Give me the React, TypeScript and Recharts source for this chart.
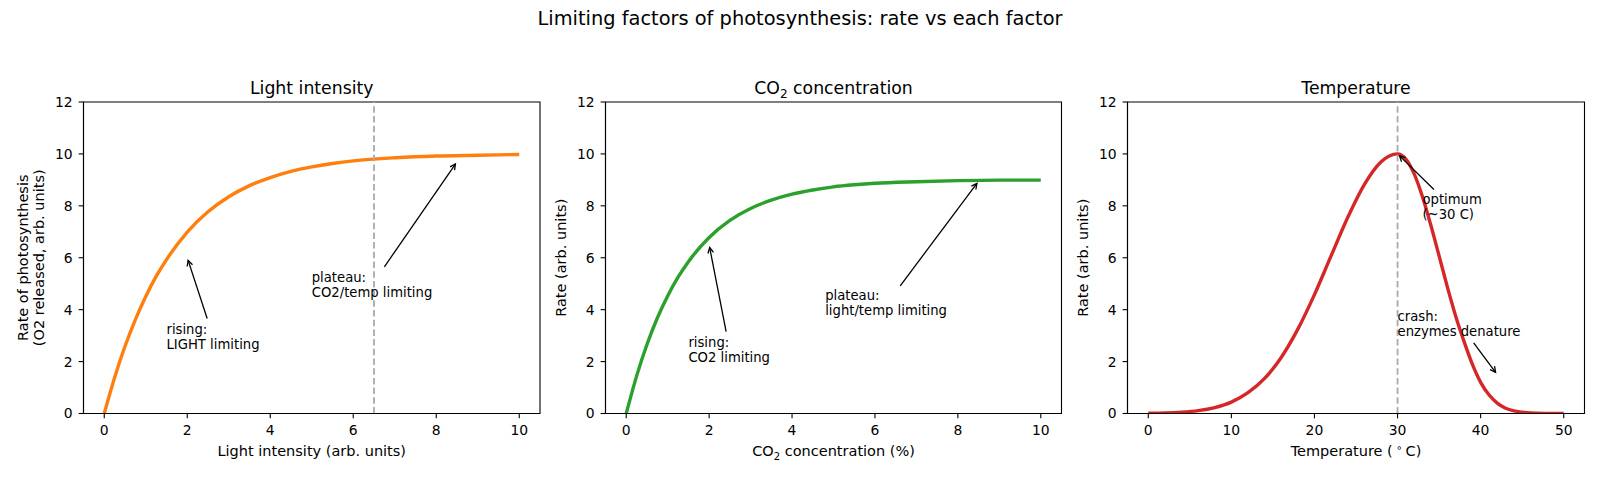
import React from 'react';
import {
  LineChart,
  Line,
  XAxis,
  YAxis,
  ReferenceLine,
  ReferenceDot,
  ReferenceArea,
  Label,
} from 'recharts';

const FONT = "'DejaVu Sans', 'Liberation Sans', sans-serif";
const TICK_FONT = 13.9;
const AXIS_LABEL_FONT = 14.5;
const NOTE_FONT = 13.2;

// ---- Light intensity vs rate ----
const lightIntensity = [0, 0.25, 0.5, 0.75, 1, 1.25, 1.5, 2, 2.5, 3, 3.5, 4, 4.5, 5, 5.5, 6, 7, 8, 9, 10];
const lightRate = [0, 1.39, 2.59, 3.62, 4.51, 5.28, 5.93, 6.99, 7.77, 8.35, 8.78, 9.09, 9.33, 9.5, 9.63, 9.73, 9.85, 9.92, 9.95, 9.98];

// ---- CO2 concentration vs rate ----
const co2Percent = [0, 0.25, 0.5, 0.75, 1, 1.25, 1.5, 2, 2.5, 3, 3.5, 4, 4.5, 5, 5.5, 6, 7, 8, 9, 10];
const co2Rate = [0, 1.44, 2.66, 3.68, 4.53, 5.25, 5.85, 6.78, 7.44, 7.9, 8.22, 8.45, 8.61, 8.73, 8.81, 8.87, 8.93, 8.97, 8.99, 8.99];

// ---- Temperature vs rate ----
const temperatureC = [0, 2, 4, 6, 8, 10, 12, 14, 16, 18, 20, 22, 24, 26, 28, 29, 30, 31, 32, 33, 34, 35, 36, 37, 38, 39, 40, 41, 42, 43, 44, 45, 46, 48, 50];
const temperatureRate = [0.01, 0.02, 0.05, 0.11, 0.23, 0.44, 0.8, 1.35, 2.16, 3.25, 4.58, 6.07, 7.55, 8.82, 9.69, 9.92, 10, 9.8, 9.23, 8.35, 7.26, 6.07, 4.87, 3.75, 2.78, 1.9, 1.2, 0.72, 0.4, 0.2, 0.1, 0.05, 0.02, 0.005, 0];

// ---- ticks ----
const rateTicks = [0, 2, 4, 6, 8, 10, 12];
const lightTicks = [0, 2, 4, 6, 8, 10];
const co2Ticks = [0, 2, 4, 6, 8, 10];
const temperatureTicks = [0, 10, 20, 30, 40, 50];

// ---- markers and annotations ----
const lightMarker = 6.5;
const temperatureOptimum = 30;

type Note = { lines: string[]; x: number; y: number };
type Arrow = { from: [number, number]; to: [number, number] };

const lightNotes: Note[] = [
  { lines: ['rising:', 'LIGHT limiting'], x: 1.5, y: 2.5 },
  { lines: ['plateau:', 'CO2/temp limiting'], x: 5, y: 4.5 },
];
const lightArrows: Arrow[] = [
  { from: [2.48, 3.66], to: [2, 6] },
  { from: [6.75, 5.65], to: [8.5, 9.7] },
];

const co2Notes: Note[] = [
  { lines: ['rising:', 'CO2 limiting'], x: 1.5, y: 2 },
  { lines: ['plateau:', 'light/temp limiting'], x: 4.8, y: 3.8 },
];
const co2Arrows: Arrow[] = [
  { from: [2.41, 3.15], to: [2, 6.5] },
  { from: [6.61, 4.92], to: [8.5, 8.95] },
];

const temperatureNotes: Note[] = [
  { lines: ['optimum', '(~30 C)'], x: 33, y: 7.5 },
  { lines: ['crash:', 'enzymes denature'], x: 30, y: 3 },
];
const temperatureArrows: Arrow[] = [
  { from: [34.38, 8.63], to: [30, 10] },
  { from: [39.16, 2.72], to: [42, 1.5] },
];

// Annotation arrow in the "->" style: a shaft plus an open head, pulled back a little from the target.
function ArrowShape(props: any) {
  const { x1, y1, x2, y2 } = props;
  const dx = x2 - x1;
  const dy = y2 - y1;
  const len = Math.hypot(dx, dy) || 1;
  const ux = dx / len;
  const uy = dy / len;
  const tx = x2 - ux * 2.8;
  const ty = y2 - uy * 2.8;
  const hl = 5.5;
  const hw = 2.8;
  const bx = tx - ux * hl;
  const by = ty - uy * hl;
  const px = -uy;
  const py = ux;
  return (
    <g>
      <line x1={x1} y1={y1} x2={tx} y2={ty} stroke="#000" strokeWidth={1.3} />
      <polyline
        points={`${bx + px * hw},${by + py * hw} ${tx},${ty} ${bx - px * hw},${by - py * hw}`}
        fill="none"
        stroke="#000"
        strokeWidth={1.3}
      />
    </g>
  );
}

// Multi-line note; the last line sits on the anchor baseline.
function NoteText({ cx, cy, lines }: { cx: number; cy: number; lines: string[] }) {
  const lh = 14.4;
  const first = cy - lh * (lines.length - 1);
  return (
    <text x={cx} y={first} fontSize={NOTE_FONT} fontFamily={FONT} fill="#000">
      {lines.map((l, i) => (
        <tspan key={i} x={cx} dy={i === 0 ? 0 : lh}>
          {l}
        </tspan>
      ))}
    </text>
  );
}

type PanelProps = {
  left: number;
  axesWidth: number;
  xs: number[];
  ys: number[];
  xDomain: [number, number];
  xTicks: number[];
  color: string;
  marker: number;
  notes: Note[];
  arrows: Arrow[];
  xLabel: React.ReactNode;
  yLabel: string[];
};

function Panel({ left, axesWidth, xs, ys, xDomain, xTicks, color, marker, notes, arrows, xLabel, yLabel }: PanelProps) {
  const data = xs.map((x, i) => ({ x, rate: ys[i] }));
  const width = 83.5 + axesWidth + 12;
  const tickStyle = { fill: '#000', fontSize: TICK_FONT, fontFamily: FONT };
  const lineStyle = { stroke: '#000', strokeWidth: 1.1 };

  const renderXLabel = (p: any) => {
    const vb = p.viewBox || {};
    return (
      <text x={vb.x + vb.width / 2} y={vb.y + 42.5} textAnchor="middle" fontSize={AXIS_LABEL_FONT} fontFamily={FONT} fill="#000">
        {xLabel}
      </text>
    );
  };

  const renderYLabel = (p: any) => {
    const vb = p.viewBox || {};
    const plotLeft = vb.x + vb.width;
    const cy = vb.y + vb.height / 2;
    return (
      <g>
        {yLabel.map((t, i) => {
          const bx = plotLeft - 39.5 - 16.3 * (yLabel.length - 1 - i);
          return (
            <text
              key={i}
              x={bx}
              y={cy}
              transform={`rotate(-90 ${bx} ${cy})`}
              textAnchor="middle"
              fontSize={AXIS_LABEL_FONT}
              fontFamily={FONT}
              fill="#000"
            >
              {t}
            </text>
          );
        })}
      </g>
    );
  };

  return (
    <div style={{ position: 'absolute', left, top: 0 }}>
      <LineChart width={width} height={480} data={data} margin={{ top: 102, right: 12, bottom: 26.5, left: 33.5 }}>
        <XAxis
          dataKey="x"
          type="number"
          domain={xDomain}
          ticks={xTicks}
          interval={0}
          allowDataOverflow
          height={40}
          tickSize={4.86}
          tickMargin={7}
          tick={tickStyle}
          axisLine={lineStyle}
          tickLine={lineStyle}
        >
          <Label content={renderXLabel} />
        </XAxis>
        <YAxis
          type="number"
          domain={[0, 12]}
          ticks={rateTicks}
          interval={0}
          allowDataOverflow
          width={50}
          tickSize={4.86}
          tickMargin={6}
          tick={tickStyle}
          axisLine={lineStyle}
          tickLine={lineStyle}
        >
          <Label content={renderYLabel} />
        </YAxis>
        <ReferenceArea
          x1={xDomain[0]}
          x2={xDomain[1]}
          y1={0}
          y2={12}
          fill="none"
          fillOpacity={0}
          stroke="#000"
          strokeWidth={1.1}
          ifOverflow="visible"
        />
        <Line
          dataKey="rate"
          type="monotone"
          stroke={color}
          strokeWidth={3.4}
          dot={false}
          activeDot={false}
          isAnimationActive={false}
        />
        <ReferenceLine x={marker} stroke="#aaaaaa" strokeWidth={1.8} strokeDasharray="6.5 3.2" />
        {arrows.map((a, i) => (
          <ReferenceLine
            key={`a${i}`}
            segment={[
              { x: a.from[0], y: a.from[1] },
              { x: a.to[0], y: a.to[1] },
            ]}
            ifOverflow="visible"
            shape={(p: any) => <ArrowShape {...p} />}
          />
        ))}
        {notes.map((n, i) => (
          <ReferenceDot
            key={`n${i}`}
            x={n.x}
            y={n.y}
            r={0}
            ifOverflow="visible"
            shape={(p: any) => <NoteText cx={p.cx} cy={p.cy} lines={n.lines} />}
          />
        ))}
      </LineChart>
    </div>
  );
}

export default function App() {
  const titleStyle = { fontFamily: FONT, fill: '#000' } as const;
  return (
    <div style={{ position: 'absolute', left: 0, top: 0, width: 1600, height: 480, background: '#fff' }}>
      <Panel
        left={0}
        axesWidth={456.5}
        xs={lightIntensity}
        ys={lightRate}
        xDomain={[-0.5, 10.5]}
        xTicks={lightTicks}
        color="#ff7f0e"
        marker={lightMarker}
        notes={lightNotes}
        arrows={lightArrows}
        xLabel="Light intensity (arb. units)"
        yLabel={['Rate of photosynthesis', '(O2 released, arb. units)']}
      />
      <Panel
        left={522}
        axesWidth={456}
        xs={co2Percent}
        ys={co2Rate}
        xDomain={[-0.5, 10.5]}
        xTicks={co2Ticks}
        color="#2ca02c"
        marker={NaN}
        notes={co2Notes}
        arrows={co2Arrows}
        xLabel={
          <>
            CO
            <tspan dy={3.5} fontSize={10.1}>
              2
            </tspan>
            <tspan dy={-3.5}> concentration (%)</tspan>
          </>
        }
        yLabel={['Rate (arb. units)']}
      />
      <Panel
        left={1044}
        axesWidth={457}
        xs={temperatureC}
        ys={temperatureRate}
        xDomain={[-2.5, 52.5]}
        xTicks={temperatureTicks}
        color="#d62728"
        marker={temperatureOptimum}
        notes={temperatureNotes}
        arrows={temperatureArrows}
        xLabel={
          <>
            Temperature (
            <tspan dx={3.5} dy={-5.5} fontSize={10.1}>
              ∘
            </tspan>
            <tspan dx={3} dy={5.5}>
              C)
            </tspan>
          </>
        }
        yLabel={['Rate (arb. units)']}
      />
      <svg width={1600} height={480} style={{ position: 'absolute', left: 0, top: 0, pointerEvents: 'none' }}>
        <text x={800} y={25} textAnchor="middle" fontSize={19.4} {...titleStyle}>
          Limiting factors of photosynthesis: rate vs each factor
        </text>
        <text x={311.75} y={93.7} textAnchor="middle" fontSize={17.3} {...titleStyle}>
          Light intensity
        </text>
        <text x={833.5} y={93.7} textAnchor="middle" fontSize={17.3} {...titleStyle}>
          CO
          <tspan dy={4} fontSize={12.1}>
            2
          </tspan>
          <tspan dy={-4}> concentration</tspan>
        </text>
        <text x={1356} y={93.7} textAnchor="middle" fontSize={17.3} {...titleStyle}>
          Temperature
        </text>
      </svg>
    </div>
  );
}
